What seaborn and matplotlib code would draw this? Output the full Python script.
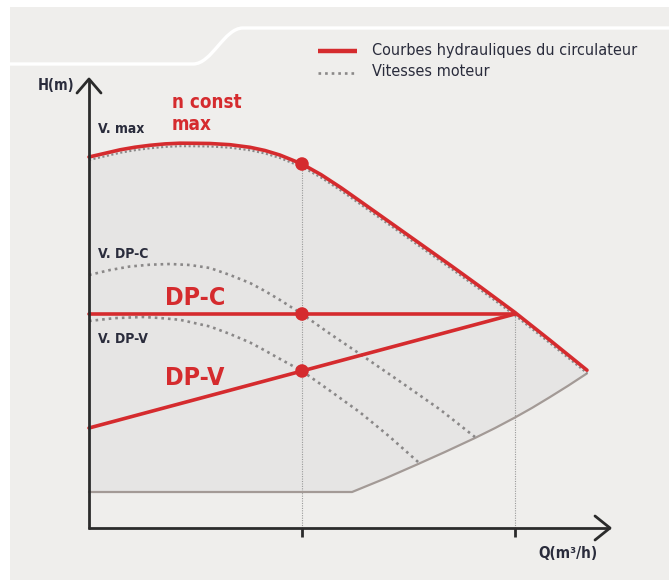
import numpy as np
import pandas as pd
import matplotlib
matplotlib.use("Agg")
import matplotlib.pyplot as plt
from matplotlib import font_manager as fm
from matplotlib.path import Path
from matplotlib.patches import PathPatch, Rectangle
import seaborn as sns

# ---------------- data (Q in arbitrary flow units, H in arbitrary head units) -------------
q_max = [0, 0.075, 0.146, 0.216, 0.286, 0.357, 0.427, 0.498, 0.568, 0.662, 0.756, 0.826,
         0.897, 1.0, 1.089, 1.183, 1.277, 1.465, 1.700, 1.840, 2.0, 2.164, 2.338]
h_max = [37.1, 37.47, 37.82, 38.08, 38.27, 38.41, 38.48, 38.47, 38.45, 38.33, 38.07, 37.75,
         37.29, 36.4, 35.34, 34.03, 32.62, 29.78, 26.23, 24.07, 21.55, 18.78, 15.78]

q_vdpc = [0, 0.099, 0.192, 0.286, 0.380, 0.474, 0.568, 0.662, 0.756, 0.826, 0.897, 1.0,
          1.131, 1.272, 1.460, 1.648, 1.812]
h_vdpc = [25.3, 25.8, 26.15, 26.33, 26.4, 26.3, 26.0, 25.3, 24.5, 23.7, 22.8, 21.4,
          19.43, 17.4, 14.65, 11.85, 9.1]

q_vdpv = [0, 0.122, 0.254, 0.333, 0.427, 0.568, 0.662, 0.756, 0.826, 0.897, 1.0, 1.131,
          1.272, 1.413, 1.545]
h_vdpv = [20.7, 20.99, 21.1, 21.0, 20.82, 20.15, 19.4, 18.55, 17.75, 16.9, 15.7, 13.73,
          11.57, 9.1, 6.6]

q_min = [0, 1.235, 1.390, 1.540, 1.671, 1.812, 1.906, 2.0, 2.080, 2.164, 2.249, 2.338]
h_min = [3.6, 3.6, 4.95, 6.35, 7.6, 9.0, 9.99, 11.05, 12.01, 13.09, 14.22, 15.46]

q_dpc = [0, 2.0]
h_dpc = [21.4, 21.4]
q_dpv = [0, 2.0]
h_dpv = [10.0, 21.4]

q_points = [1.0, 1.0, 1.0]
h_points = [36.4, 21.4, 15.7]

q_guides = [1.0, 2.0]
h_guides = [36.4, 21.4]

legend_labels = ["Courbes hydrauliques du circulateur", "Vitesses moteur"]

# ---------------- style ----------------
sns.set_style("white")
names = {f.name for f in fm.fontManager.ttflist}
if "Liberation Sans Narrow" in names:
    NARROW = ["Liberation Sans Narrow", "DejaVu Sans"]
    STRETCH = "normal"
    LEG_SIZE = 13
else:
    NARROW = ["DejaVu Sans"]
    STRETCH = "condensed"
    LEG_SIZE = 11.6
plt.rcParams["font.family"] = NARROW

RED = "#d52b2e"
DOT = "#8a8888"
DARK = "#2a2c3c"
AX = "#2b2b2b"
BG = "#efeeec"
FILL = "#e6e5e4"
MINC = "#a39a96"

W, H = 669, 581
fig = plt.figure(figsize=(W / 100, H / 100), dpi=100)
fig.patch.set_facecolor("white")

# background layer in pixel coordinates
deco = fig.add_axes([0, 0, 1, 1], zorder=0)
deco.set_xlim(0, W)
deco.set_ylim(H, 0)
deco.axis("off")
deco.add_patch(Rectangle((10, 7), W - 10, 573, facecolor=BG, edgecolor="none"))
verts = [(10, 64), (193, 64), (212, 64), (224, 28), (243, 28), (W, 28)]
codes = [Path.MOVETO, Path.LINETO, Path.CURVE4, Path.CURVE4, Path.CURVE4, Path.LINETO]
deco.add_patch(PathPatch(Path(verts, codes), facecolor="none", edgecolor="white", lw=2.4))

# main chart layer: pixel x = 89 + 213*Q, pixel y = 528 - 10*H
ax = fig.add_axes([0, 0, 1, 1], zorder=1)
ax.patch.set_visible(False)
x0, sx, y0, sy = 89, 213.0, 528, 10.0
ax.set_xlim(-x0 / sx, (W - x0) / sx)
ax.set_ylim((y0 - H) / sy, y0 / sy)
ax.axis("off")

# shaded operating area
poly_q = q_max + q_min[::-1]
poly_h = h_max + h_min[::-1]
ax.fill(poly_q, poly_h, color=FILL, lw=0, zorder=1)

# guide lines
for q, h in zip(q_guides, h_guides):
    ax.plot([q, q], [0, h], color="#9a9a9a", lw=0.8, ls=(0, (1, 1.2)), zorder=2)

def line(q, h, **kw):
    df = pd.DataFrame({"Q": q, "H": h})
    sns.lineplot(data=df, x="Q", y="H", ax=ax, sort=False, estimator=None, legend=False,
                 solid_joinstyle="round", **kw)

line(q_min, h_min, color=MINC, lw=1.6, zorder=3)
line(q_vdpc, h_vdpc, color=DOT, lw=1.9, ls=(0, (1, 1.5)), zorder=3)
line(q_vdpv, h_vdpv, color=DOT, lw=1.9, ls=(0, (1, 1.5)), zorder=3)
line(q_max, [h - 0.3 for h in h_max], color=DOT, lw=1.5, ls=(0, (1, 1.2)), zorder=3)
line(q_max, h_max, color=RED, lw=2.6, zorder=5)
line(q_dpc, h_dpc, color=RED, lw=2.6, zorder=5)
line(q_dpv, h_dpv, color=RED, lw=2.6, zorder=5)
sns.scatterplot(x=q_points, y=h_points, ax=ax, color=RED, s=95, edgecolor="none", zorder=6, legend=False)

# axes with arrows
ax_q_end = (610 - x0) / sx
ax_h_end = (y0 - 79) / sy
ax.plot([-0.005, ax_q_end], [0, 0], color=AX, lw=2.0, zorder=7, solid_capstyle="butt")
ax.plot([0, 0], [-0.1, ax_h_end], color=AX, lw=2.0, zorder=7, solid_capstyle="butt")
ax.plot([ax_q_end - 15 / sx, ax_q_end, ax_q_end - 15 / sx], [1.2, 0, -1.2], color=AX, lw=2.0, zorder=7)
ax.plot([-12 / sx, 0, 12 / sx], [ax_h_end - 1.4, ax_h_end, ax_h_end - 1.4], color=AX, lw=2.0, zorder=7)
for q in q_guides:
    ax.plot([q, q], [0, -0.9], color=AX, lw=2.0, zorder=7, solid_capstyle="butt")

# text layer on top, pixel coordinates
top = fig.add_axes([0, 0, 1, 1], zorder=2)
top.patch.set_visible(False)
top.set_xlim(0, W)
top.set_ylim(H, 0)
top.axis("off")

def t(x, y, s, size, color=DARK, weight="bold", ha="left"):
    top.text(x, y, s, fontsize=size, color=color, weight=weight, ha=ha, va="center",
             fontstretch=STRETCH)

t(38, 86, "H(m)", 10.5)
t(172, 102, "n const", 13.5, color=RED)
t(172, 125, "max", 13.5, color=RED)
t(98, 129, "V. max", 10)
t(98, 254, "V. DP-C", 10)
t(98, 339, "V. DP-V", 10)
t(165, 298, "DP-C", 18, color=RED)
t(165, 378, "DP-V", 18, color=RED)
t(538, 553, "Q(m³/h)", 11)

# legend
top.plot([318, 357], [51, 51], color=RED, lw=3.2, solid_capstyle="butt")
top.plot([318, 357], [73, 73], color=DOT, lw=1.9, ls=(0, (1, 1.5)))
t(372, 50, legend_labels[0], LEG_SIZE, weight="normal")
t(372, 72, legend_labels[1], LEG_SIZE, weight="normal")

fig.savefig("out.png", dpi=100, facecolor=fig.get_facecolor())
